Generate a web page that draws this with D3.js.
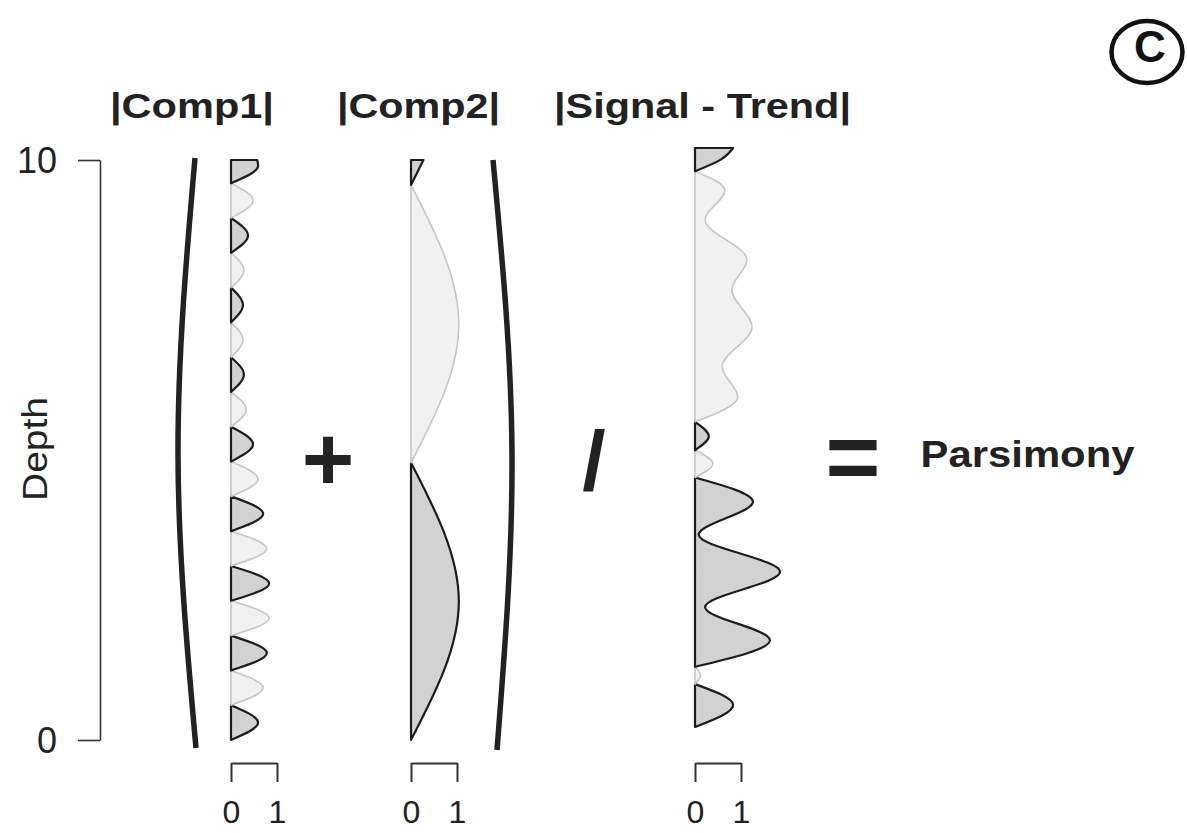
<!DOCTYPE html>
<html>
<head>
<meta charset="utf-8">
<script src="https://cdn.jsdelivr.net/npm/d3@7"></script>
<style>
  body { margin: 0; background: #fff; }
  text { font-family: "Liberation Sans", Arial, sans-serif; fill: #222; }
</style>
</head>
<body>
<div class="box"></div>
<script>
// DATA (depth 0-10, values = normalised magnitude, sign gives the shading)
const depthTicks = [0, 10];
const amountTicks = [0, 1];
const panelTitles = ['|Comp1|', '|Comp2|', '|Signal - Trend|'];

const comp1Depth = [0, 0.3, 0.6, 0.9, 1.2, 1.5, 1.8, 2.1, 2.4, 2.7, 3.0, 3.3, 3.6, 3.9, 4.2, 4.5, 4.8,
                    5.1, 5.4, 5.7, 6.0, 6.3, 6.6, 6.9, 7.2, 7.5, 7.8, 8.1, 8.4, 8.7, 9.0, 9.3, 9.6, 9.9, 10];
const comp1Value = [0, 0.59, 0, -0.70, 0, 0.78, 0, -0.83, 0, 0.83, 0, -0.78, 0, 0.70, 0, -0.59, 0,
                    0.48, 0, -0.33, 0, 0.28, 0, -0.26, 0, 0.26, 0, -0.28, 0, 0.37, 0, -0.48, 0, 0.59, 0.57];

const comp2Depth = [0, 2.39, 4.78, 7.17, 9.57, 10];
const comp2Value = [0, 1.04, 0, -1.04, 0, 0.27];

const signalDepth = [0, 0.38, 0.74, 0.90, 1.04, 1.50, 2.07, 2.68, 3.32, 3.89, 4.31, 4.55, 4.78,
                     5.02, 5.27, 5.70, 6.22, 6.91, 7.55, 8.07, 8.76, 9.27, 9.60, 9.80, 10];
const signalValue = [0, 0.83, 0, -0.12, 0, 1.63, 0.22, 1.85, 0.08, 1.26, 0, -0.39, 0,
                     0.30, 0, -0.93, -0.59, -1.24, -0.80, -1.13, -0.22, -0.65, 0, 0.56, 0.83];

// SETUP
const svg = d3.select('.box')
              .append('svg')
              .attr('width', 1187)
              .attr('height', 833)
              .style('background', '#fff');

const unit = 46; // px for one unit on the small x axes
const panels = [
  {title: panelTitles[0], depth: comp1Depth, value: comp1Value, left: 231, bottom: 740, top: 160, titleX: 192, titleLen: 164},
  {title: panelTitles[1], depth: comp2Depth, value: comp2Value, left: 411, bottom: 740, top: 160, titleX: 418.5, titleLen: 163},
  {title: panelTitles[2], depth: signalDepth, value: signalValue, left: 695, bottom: 727, top: 148, titleX: 702.5, titleLen: 297}
];

// split a signed series into humps between zero crossings
const humps = (depth, value) => {
  const pts = depth.map((d, i) => ({d: d, v: value[i]}));
  const segs = [];
  let start = 0;
  for (let i = 1; i < pts.length; i++) {
    if (pts[i].v === 0 || i === pts.length - 1) {
      segs.push(pts.slice(start, i + 1));
      start = i;
    }
  }
  return segs;
};

// depth axis on the left
const yMain = d3.scaleLinear().domain([0, 10]).range([740, 160]);
const yAxis = svg.append('g')
                 .attr('transform', 'translate(100,0)')
                 .call(d3.axisLeft(yMain).tickValues(depthTicks).tickSize(22).tickSizeOuter(0).tickPadding(21));
yAxis.attr('font-family', null).attr('font-size', null);
yAxis.selectAll('path, line').attr('stroke', '#333').attr('stroke-width', 1.6);
yAxis.selectAll('text').style('font-size', '36px').attr('dy', '0.36em');

svg.append('text')
   .attr('transform', 'translate(47,449) rotate(-90)')
   .attr('text-anchor', 'middle')
   .attr('textLength', 104)
   .attr('lengthAdjust', 'spacingAndGlyphs')
   .style('font-size', '35px')
   .text('Depth');

panels.forEach(p => {
  const x = d3.scaleLinear().domain([0, 1]).range([p.left, p.left + unit]);
  const y = d3.scaleLinear().domain([0, 10]).range([p.bottom, p.top]);

  const area = d3.area()
                 .curve(d3.curveMonotoneY)
                 .y(d => y(d.d))
                 .x0(x(0))
                 .x1(d => x(Math.abs(d.v)));

  svg.append('g')
     .selectAll('path')
     .data(humps(p.depth, p.value))
     .enter()
     .append('path')
     .attr('d', area)
     .attr('fill', s => d3.sum(s, d => d.v) > 0 ? '#d2d2d2' : '#f1f1f1')
     .attr('stroke', s => d3.sum(s, d => d.v) > 0 ? '#1c1c1c' : '#c6c6c6')
     .attr('stroke-width', s => d3.sum(s, d => d.v) > 0 ? 2.2 : 1.6)
     .attr('stroke-linejoin', 'round');

  const xAxis = svg.append('g')
                   .attr('transform', 'translate(0,763)')
                   .call(d3.axisBottom(x).tickValues(amountTicks).tickFormat(d3.format('d'))
                           .tickSize(19).tickSizeOuter(0).tickPadding(18));
  xAxis.attr('font-family', null).attr('font-size', null);
  xAxis.selectAll('path, line').attr('stroke', '#333').attr('stroke-width', 2);
  xAxis.selectAll('text').style('font-size', '32px');

  svg.append('text')
     .attr('x', p.titleX)
     .attr('y', 118)
     .attr('text-anchor', 'middle')
     .attr('textLength', p.titleLen)
     .attr('lengthAdjust', 'spacingAndGlyphs')
     .style('font-size', '35px')
     .style('font-weight', 'bold')
     .text(p.title);
});

// big brackets around the sum
const bracket = d3.line().curve(d3.curveNatural);
svg.append('path')
   .attr('d', bracket([[195, 158], [178, 453], [196, 748]]))
   .attr('fill', 'none').attr('stroke', '#222').attr('stroke-width', 5.5);
svg.append('path')
   .attr('d', bracket([[493, 160], [512, 453], [497, 750]]))
   .attr('fill', 'none').attr('stroke', '#222').attr('stroke-width', 5.5);

// operators
const ops = [
  {t: '+', x: 328, y: 490, size: 90},
  {t: '/', x: 594, y: 490, size: 84},
  {t: '=', x: 853, y: 489, size: 94}
];
svg.selectAll('.op')
   .data(ops)
   .enter()
   .append('text')
   .attr('class', 'op')
   .attr('x', d => d.x)
   .attr('y', d => d.y)
   .attr('text-anchor', 'middle')
   .style('font-size', d => d.size + 'px')
   .style('font-weight', 'bold')
   .text(d => d.t);

svg.append('text')
   .attr('x', 1027.5)
   .attr('y', 467)
   .attr('text-anchor', 'middle')
   .attr('textLength', 214)
   .attr('lengthAdjust', 'spacingAndGlyphs')
   .style('font-size', '36px')
   .style('font-weight', 'bold')
   .text('Parsimony');

// panel letter
svg.append('ellipse')
   .attr('cx', 1147).attr('cy', 52)
   .attr('rx', 35.5).attr('ry', 31)
   .attr('fill', 'none').attr('stroke', '#111').attr('stroke-width', 4.5);
svg.append('text')
   .attr('x', 1150).attr('y', 62)
   .attr('text-anchor', 'middle')
   .style('font-size', '44px')
   .style('font-weight', 'bold')
   .style('fill', '#111')
   .text('C');
</script>
</body>
</html>
